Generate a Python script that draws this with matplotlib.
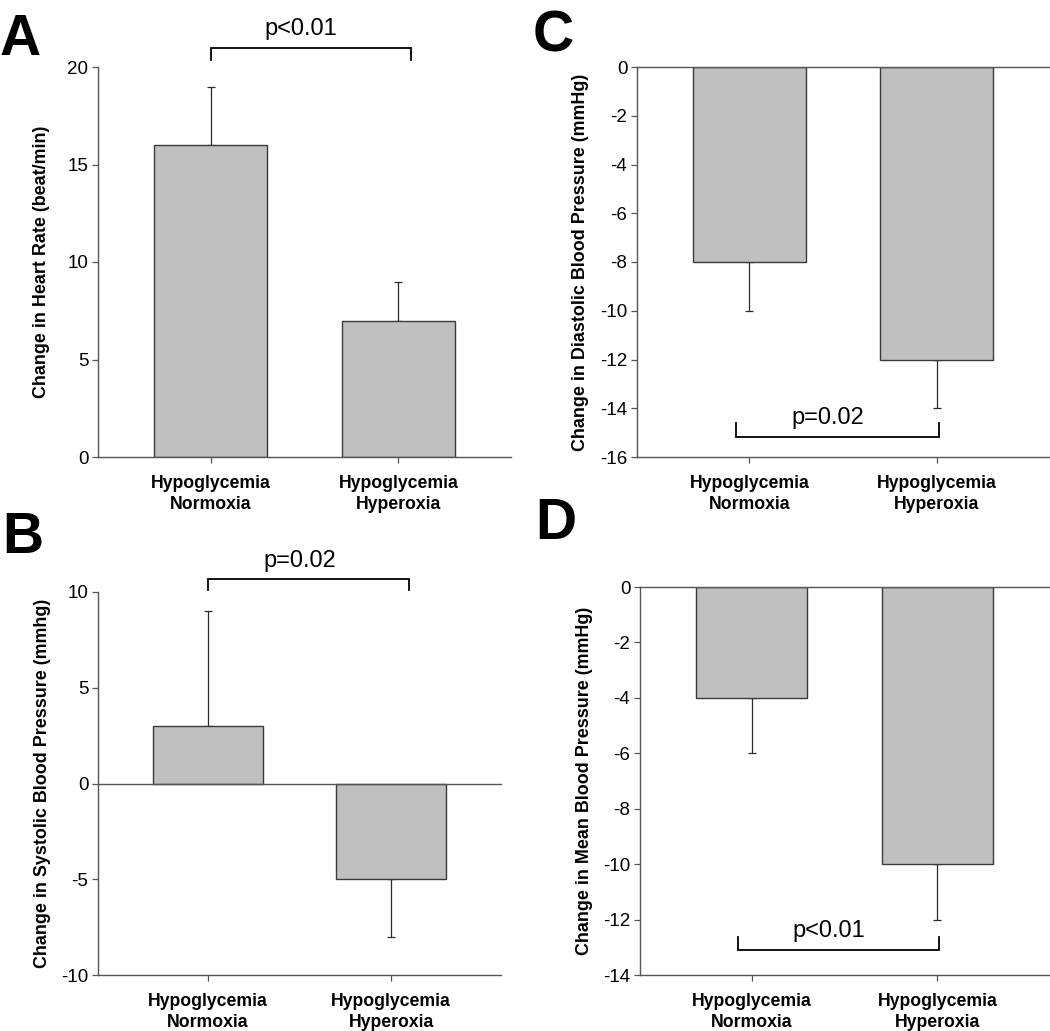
import matplotlib
matplotlib.use("Agg")
import matplotlib.pyplot as plt

plt.rcParams['font.family'] = ['Liberation Sans', 'DejaVu Sans']
plt.rcParams['axes.unicode_minus'] = False

categories = ["Hypoglycemia\nNormoxia", "Hypoglycemia\nHyperoxia"]

hr_vals = [16, 7]
hr_err = [3, 2]
sbp_vals = [3, -5]
sbp_err = [6, 3]
dbp_vals = [-8, -12]
dbp_err = [2, 2]
mbp_vals = [-4, -10]
mbp_err = [2, 2]

panels = [
    dict(letter="A", vals=hr_vals, err=hr_err, ylim=(0, 20), yticks=[0, 5, 10, 15, 20],
         ylabel="Change in Heart Rate (beat/min)", ptext="p<0.01",
         rect=(98, 67, 511, 457), brk=(0.0, 1.065, 20.38, 20.99), ty=21.97, zero=False,
         letter_xy=(0, 55)),
    dict(letter="B", vals=sbp_vals, err=sbp_err, ylim=(-10, 10), yticks=[-10, -5, 0, 5, 10],
         ylabel="Change in Systolic Blood Pressure (mmhg)", ptext="p=0.02",
         rect=(98, 592, 501, 975), brk=(0.0, 1.10, 10.08, 10.70), ty=11.62, zero=True,
         letter_xy=(2, 553)),
    dict(letter="C", vals=dbp_vals, err=dbp_err, ylim=(-16, 0), yticks=list(range(-16, 1, 2)),
         ylabel="Change in Diastolic Blood Pressure (mmHg)", ptext="p=0.02",
         rect=(637, 67, 1049, 457), brk=(-0.07, 1.01, -14.6, -15.16), ty=-14.4, zero=True,
         letter_xy=(533, 52)),
    dict(letter="D", vals=mbp_vals, err=mbp_err, ylim=(-14, 0), yticks=list(range(-14, 1, 2)),
         ylabel="Change in Mean Blood Pressure (mmHg)", ptext="p<0.01",
         rect=(640, 587, 1049, 975), brk=(-0.075, 1.01, -12.63, -13.1), ty=-12.4, zero=True,
         letter_xy=(535, 539)),
]

W, H = 1050, 1031
fig = plt.figure(figsize=(W / 100, H / 100), dpi=100)

axis_col = "#555555"
x = [0, 1]
for p in panels:
    x0, y0, x1, y1 = p["rect"]
    ax = fig.add_axes([x0 / W, 1 - y1 / H, (x1 - x0) / W, (y1 - y0) / H])
    vals, err = p["vals"], p["err"]
    ax.bar(x, vals, width=0.6, color="#c0c0c0", edgecolor="#3a3a3a", linewidth=1.0, zorder=2)
    lower = [e if v < 0 else 0 for v, e in zip(vals, err)]
    upper = [e if v >= 0 else 0 for v, e in zip(vals, err)]
    for xi, v, lo, up in zip(x, vals, lower, upper):
        ax.errorbar([xi], [v], yerr=[[lo], [up]], fmt="none", ecolor="#2a2a2a",
                    elinewidth=0.9, capsize=2.6, capthick=0.9, zorder=1)
    ax.set_xlim(-0.6, 1.6)
    ax.set_ylim(*p["ylim"])
    ax.set_yticks(p["yticks"])
    ax.set_xticks(x)
    ax.set_xticklabels(categories, fontsize=12.7, fontweight="bold", linespacing=1.3)
    ax.tick_params(axis="y", direction="out", length=4, width=0.9, color=axis_col,
                   labelsize=13.5, pad=3)
    ax.tick_params(axis="x", direction="out", length=4, width=0.9, color=axis_col, pad=9)
    for s in ["top", "right"]:
        ax.spines[s].set_visible(False)
    for s in ["left", "bottom"]:
        ax.spines[s].set_color(axis_col)
        ax.spines[s].set_linewidth(1.0)
    if p["zero"]:
        ax.axhline(0, color=axis_col, linewidth=1.0, clip_on=False, zorder=3)
    ax.set_ylabel(p["ylabel"], fontsize=12.9, fontweight="bold")
    ax.yaxis.set_label_coords(-0.116, 0.5)
    bx0, bx1, ya, yb = p["brk"]
    ax.plot([bx0, bx0, bx1, bx1], [ya, yb, yb, ya], color="black", linewidth=1.3,
            clip_on=False, solid_joinstyle="miter")
    ax.text((bx0 + bx1) / 2 - 0.05, p["ty"], p["ptext"], ha="center", va="center",
            fontsize=17, clip_on=False)
    lx, ly = p["letter_xy"]
    fig.text(lx / W, 1 - ly / H, p["letter"], fontsize=41, fontweight="bold",
             ha="left", va="baseline")

fig.savefig("out.png", dpi=100)
